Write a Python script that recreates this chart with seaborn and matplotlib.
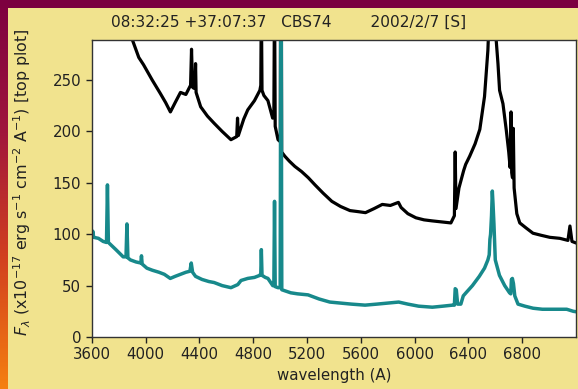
import numpy as np
import pandas as pd
import matplotlib
matplotlib.use("Agg")
import matplotlib.pyplot as plt
from matplotlib.colors import LinearSegmentedColormap
from matplotlib.patches import Rectangle
import seaborn as sns

# ---- data ----
black_wl = [3600, 3700, 3800, 3900, 3950, 3985, 4050, 4110, 4150, 4185, 4220, 4260, 4300, 4335,
            4342, 4350, 4360, 4368, 4372, 4376, 4410, 4460, 4510, 4570, 4635, 4678, 4684, 4690,
            4700, 4730, 4760, 4810, 4850, 4857, 4861, 4866, 4880, 4910, 4945, 4954, 4959, 4964,
            4985, 5002, 5007, 5012, 5035, 5070, 5110, 5160, 5210, 5260, 5320, 5385, 5450, 5520,
            5580, 5635, 5700, 5760, 5820, 5880, 5900, 5950, 6010, 6070, 6130, 6200, 6270, 6296,
            6302, 6308, 6330, 6365, 6380, 6410, 6450, 6485, 6520, 6545, 6563, 6583, 6620, 6632,
            6657, 6682, 6700, 6710, 6717, 6722, 6728, 6734, 6740, 6760, 6782, 6830, 6880, 6940,
            7005, 7080, 7140, 7155, 7170, 7230]
black_flux = [420, 380, 330, 290, 272, 265, 250, 237, 228, 219, 228, 238, 236, 245,
              280, 243, 242, 246, 266, 238, 224, 215, 208, 200, 192, 195, 213, 196,
              200, 212, 221, 230, 240, 245, 330, 240, 235, 230, 213, 215, 340, 205,
              192, 190, 600, 180, 176, 171, 166, 161, 155, 148, 140, 132, 127, 123,
              122, 121, 125, 129, 128, 131, 126, 120, 116, 114, 113, 112, 111, 118,
              180, 125, 145, 162, 168, 176, 188, 202, 234, 279, 340, 330, 266, 240,
              227, 201, 180, 165, 219, 160, 155, 203, 145, 120, 111, 106, 101, 99,
              97, 96, 94, 108, 93, 90]

teal_wl = [3600, 3608, 3615, 3650, 3685, 3710, 3717, 3724, 3740, 3780, 3834, 3855, 3862, 3869,
           3888, 3930, 3965, 3970, 3975, 4010, 4050, 4100, 4140, 4184, 4220, 4260, 4300, 4330,
           4340, 4350, 4372, 4420, 4470, 4510, 4570, 4635, 4686, 4710, 4760, 4810, 4850, 4857,
           4861, 4866, 4890, 4910, 4946, 4954, 4959, 4964, 4985, 5001, 5007, 5013, 5035, 5080,
           5130, 5208, 5290, 5370, 5450, 5530, 5632, 5720, 5800, 5882, 5950, 6030, 6132, 6210,
           6282, 6296, 6302, 6310, 6320, 6344, 6362, 6382, 6430, 6481, 6520, 6545, 6555, 6560,
           6565, 6572, 6578, 6583, 6590, 6600, 6631, 6670, 6706, 6715, 6720, 6727, 6735, 6745,
           6769, 6820, 6881, 6950, 7010, 7080, 7131, 7180, 7230]
teal_flux = [97, 103, 97, 96, 93, 92, 148, 92, 90, 85, 78, 78, 110, 77,
             75, 73, 72, 79, 71, 67, 65, 63, 61, 57, 59, 61, 63, 64,
             72, 63, 59, 56, 54, 53, 50, 48, 51, 55, 57, 58, 60, 62,
             85, 60, 58, 57, 50, 50, 132, 49, 48, 48, 400, 46, 45, 43,
             42, 41, 37, 34, 33, 32, 31, 32, 33, 34, 32, 30, 29, 30,
             31, 31, 47, 46, 32, 32, 40, 43, 50, 59, 67, 75, 80, 95,
             100, 118, 142, 130, 110, 75, 60, 50, 43, 42, 56, 57, 52, 40,
             32, 30, 28, 27, 27, 27, 27, 25, 24]

x_ticks = [3600, 4000, 4400, 4800, 5200, 5600, 6000, 6400, 6800]
y_ticks = [0, 50, 100, 150, 200, 250]
title_text = "08:32:25 +37:07:37   CBS74        2002/2/7 [S]"

black_df = pd.DataFrame({"wavelength": black_wl, "flux": black_flux})
teal_df = pd.DataFrame({"wavelength": teal_wl, "flux": teal_flux})

sns.set_style("ticks")
plt.rcParams['font.family'] = ['DejaVu Sans']

W, H = 578, 389
fig = plt.figure(figsize=(W / 100, H / 100), dpi=100, facecolor="#7b0040")

# yellow panel (behind everything)
fig.patches.append(Rectangle((8 / W, 0), 1, 1 - 8 / H, transform=fig.transFigure,
                             facecolor="#f1e38e", edgecolor="none", zorder=-10))
# gradient strip on the left
gax = fig.add_axes([0, 0, 8 / W, 1])
cmap = LinearSegmentedColormap.from_list("g", ["#7d0040", "#a0163c", "#d2401f", "#f58010"])
gax.imshow(np.linspace(0, 1, 200).reshape(-1, 1), aspect="auto", cmap=cmap)
gax.axis("off")

ax = fig.add_axes([91.7 / W, 52 / H, (576 - 91.7) / W, (337 - 40) / H])
ax.set_facecolor("white")

sns.lineplot(data=black_df, x="wavelength", y="flux", ax=ax, color="black", lw=2.3,
             estimator=None, sort=False)
sns.lineplot(data=teal_df, x="wavelength", y="flux", ax=ax, color="#17898b", lw=2.5,
             estimator=None, sort=False)

ax.set_xlim(3600, 7200)
ax.set_ylim(0, 289)
ax.set_xticks(x_ticks)
ax.set_yticks(y_ticks)
ax.tick_params(axis="both", labelsize=10.8, colors="#222222", length=4, width=1)
for s in ax.spines.values():
    s.set_color("#333333")
    s.set_linewidth(1.0)

ax.set_xlabel("wavelength (A)", fontsize=10.8, color="#222222", labelpad=4)
ax.set_ylabel(r"$F_{\lambda}$ (x10$^{-17}$ erg s$^{-1}$ cm$^{-2}$ A$^{-1}$) [top plot]",
              fontsize=11.4, color="#222222")
ax.yaxis.set_label_coords(-0.122, 0.52)
fig.text(0.5, 1 - 22 / H, title_text, fontsize=11.1, color="#222222",
         ha="center", va="center")

fig.savefig("out.png", dpi=100, facecolor=fig.get_facecolor())
